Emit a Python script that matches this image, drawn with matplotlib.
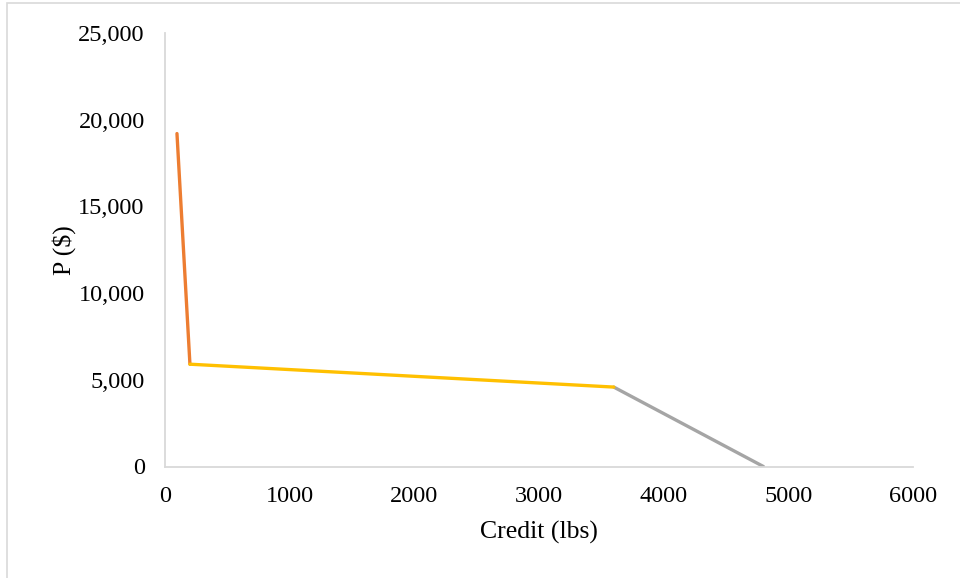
import matplotlib
matplotlib.use("Agg")
import matplotlib.pyplot as plt
from matplotlib.patches import Rectangle
from matplotlib.ticker import FuncFormatter

plt.rcParams['font.family'] = ['Liberation Serif', 'DejaVu Serif']

# Data segments (Credit lbs, P $)
seg1_x = [96, 200]
seg1_y = [19200, 5900]
seg2_x = [200, 3600]
seg2_y = [5900, 4580]
seg3_x = [3600, 4800]
seg3_y = [4580, 0]

x_ticks = [0, 1000, 2000, 3000, 4000, 5000, 6000]
y_ticks = [0, 5000, 10000, 15000, 20000, 25000]

fig = plt.figure(figsize=(9.6, 5.78), dpi=100)
ax = fig.add_axes([165/960, 1-466.5/578, (913-165)/960, (466.5-33)/578])

ax.plot(seg1_x, seg1_y, color='#ED7D31', lw=2.4, solid_capstyle='round')
ax.plot(seg3_x, seg3_y, color='#A5A5A5', lw=2.4, solid_capstyle='round')
ax.plot(seg2_x, seg2_y, color='#FFC000', lw=2.4, solid_capstyle='round')

ax.set_xlim(0, 6000)
ax.set_ylim(0, 25000)
ax.set_xticks(x_ticks)
ax.set_yticks(y_ticks)
ax.yaxis.set_major_formatter(FuncFormatter(lambda v, p: f"{int(v):,}"))
ax.tick_params(axis='both', length=0, labelsize=17.5)
ax.tick_params(axis='y', pad=14.6)
ax.tick_params(axis='x', pad=14.3)
for s in ['top', 'right']:
    ax.spines[s].set_visible(False)
for s in ['left', 'bottom']:
    ax.spines[s].set_color('#D9D9D9')
    ax.spines[s].set_linewidth(1.3)

ax.set_xlabel('Credit (lbs)', fontsize=18.5, labelpad=9.5)
ax.set_ylabel('P ($)', fontsize=18.5, labelpad=1.5)

fig.patches.append(Rectangle((7/960, -0.1), 1.2, 1 - 3/578 + 0.1, transform=fig.transFigure,
                             fill=False, edgecolor='#D9D9D9', lw=1.2))

fig.savefig('out.png', dpi=100)
